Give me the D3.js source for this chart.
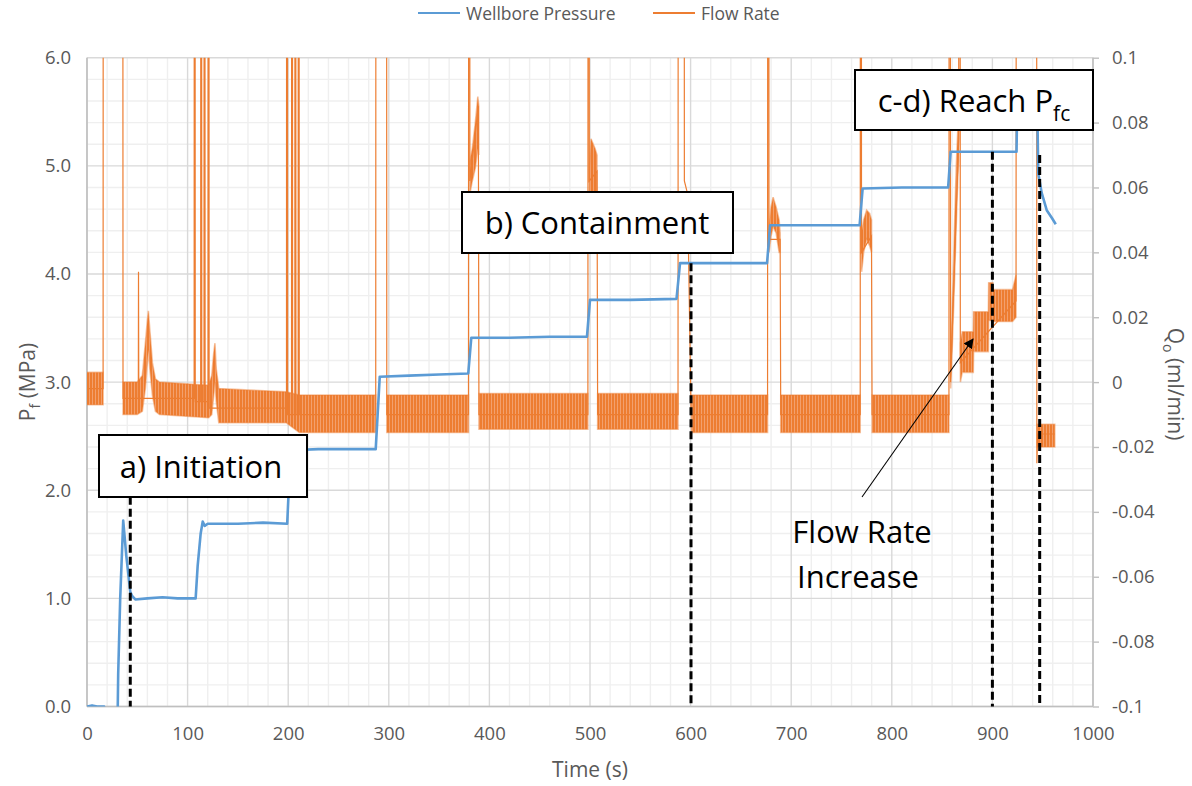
<!DOCTYPE html>
<html>
<head>
<meta charset="utf-8">
<script src="https://cdn.jsdelivr.net/npm/d3@7"></script>
<style>
  html, body { margin: 0; padding: 0; background: #fff; }
  svg { display: block; }
  text { font-family: "Open Sans", "Noto Sans", sans-serif; }
</style>
</head>
<body>
<svg id="chart" width="1192" height="786"></svg>
<script>
// ---- Wellbore pressure, [time s, MPa] ----
const pressure = [
  [0, 0.0], [5, 0.01], [10, 0.0], [17, 0.0], [18, -0.4], [30, -0.4], [31, 0.3], [33, 1.0],
  [36, 1.72], [39, 1.4], [43, 1.06], [45, 1.02], [48, 0.99], [60, 1.0], [75, 1.01], [90, 1.0],
  [108, 1.0], [110, 1.3], [113, 1.6], [115, 1.71], [117, 1.67], [120, 1.69], [150, 1.69],
  [175, 1.70], [199, 1.69], [201, 2.1], [203, 2.37], [230, 2.38], [260, 2.38], [287, 2.38],
  [291, 3.05], [320, 3.06], [350, 3.07], [379, 3.08], [382, 3.41], [420, 3.41], [460, 3.42],
  [497, 3.42], [500, 3.76], [540, 3.76], [586, 3.77], [589.5, 4.10], [630, 4.10], [676, 4.10],
  [679, 4.45], [720, 4.45], [768, 4.45], [771, 4.79], [810, 4.80], [856, 4.80], [858.5, 5.13],
  [890, 5.13], [924, 5.13], [925, 5.8], [943, 5.8], [944.5, 5.6], [945.6, 4.93], [949, 4.75],
  [954, 4.59], [959, 4.52], [963, 4.46]
];

// ---- Flow rate trace, [time s, ml/min]; values above 0.1 run off the top ----
const flowTrace = [
  [0, -0.002], [16, -0.002], [16.2, 0.3], [35.5, 0.3], [35.8, -0.005],
  [51, -0.005], [51.2, 0.034], [51.5, -0.005],
  [106.5, -0.005], [106.7, 0.3], [107.3, 0.3], [107.6, -0.006],
  [113, -0.006], [113.2, 0.3], [113.8, 0.3], [114.1, -0.006],
  [116.3, -0.006], [116.5, 0.3], [117.1, 0.3], [117.4, -0.006],
  [120.3, -0.006], [120.5, 0.3], [121.1, 0.3], [121.4, -0.008],
  [198.3, -0.008], [198.5, 0.3], [199.1, 0.3], [199.4, -0.01],
  [203.3, -0.01], [203.5, 0.3], [204.1, 0.3], [204.4, -0.01],
  [206.6, -0.01], [206.8, 0.3], [207.4, 0.3], [207.7, -0.01],
  [209.9, -0.01], [210.1, 0.3], [210.7, 0.3], [211, -0.01],
  [287, -0.01], [287.3, 0.3], [297.7, 0.3], [298, -0.01],
  [379.2, -0.01], [379.5, 0.3], [380.3, 0.3], [380.6, 0.062], [389, 0.085], [389.6, -0.01],
  [497.9, -0.01], [498.2, 0.3], [499, 0.3], [499.3, 0.062], [507, 0.065], [507.6, -0.01],
  [587.5, -0.01], [587.8, 0.3], [593.5, 0.3], [593.8, 0.062], [597, 0.058], [600.5, -0.01],
  [676.5, -0.01], [676.8, 0.3], [677.6, 0.3], [677.9, 0.044], [689, 0.044], [689.6, -0.01],
  [768.6, -0.01], [768.9, 0.3], [769.6, 0.3], [769.9, 0.04], [779.8, 0.045], [780.4, -0.01],
  [856.8, -0.01], [857.1, 0.3], [858, 0.3], [858.4, 0.0], [866.5, 0.075], [866.8, 0.3],
  [867.8, 0.3], [868.1, 0.006], [923.5, 0.025], [923.9, 0.3], [943.8, 0.3], [944.2, -0.025],
  [945, -0.016], [962, -0.016]
];

// ---- Flow rate noise envelope, one list per segment: [time s, low, high] ml/min ----
const flowBands = [
  [[0, -0.007, 0.003], [16, -0.007, 0.003]],
  [[35.8, -0.010, 0.0], [50, -0.010, 0.0], [55, -0.009, 0.002], [58, -0.002, 0.012],
   [60, 0.006, 0.019], [61, 0.010, 0.022], [62.5, 0.004, 0.016], [65, -0.004, 0.006],
   [68, -0.009, 0.001], [72, -0.010, 0.0], [121, -0.011, -0.001], [124, -0.010, 0.002],
   [126, -0.004, 0.009], [127.2, 0.0, 0.012], [128.5, -0.006, 0.004], [131, -0.0125, -0.002],
   [198, -0.0125, -0.003], [211, -0.0155, -0.004], [287, -0.0155, -0.004]],
  [[298, -0.0155, -0.004], [379.2, -0.0155, -0.004]],
  [[380.6, 0.058, 0.068], [383, 0.062, 0.072], [386, 0.066, 0.080], [388.5, 0.072, 0.088], [389.5, 0.070, 0.085]],
  [[389.6, -0.0145, -0.0035], [497.9, -0.0145, -0.0035]],
  [[499.3, 0.058, 0.066], [501, 0.058, 0.075], [505, 0.058, 0.072], [507, 0.058, 0.070]],
  [[507.6, -0.0145, -0.0035], [587.5, -0.0145, -0.0035]],
  [[601, -0.0155, -0.004], [676.5, -0.0155, -0.004]],
  [[678, 0.040, 0.048], [680, 0.045, 0.054], [682, 0.048, 0.057], [685, 0.046, 0.054], [688, 0.040, 0.050], [689, 0.040, 0.046]],
  [[689.6, -0.0155, -0.004], [768.6, -0.0155, -0.004]],
  [[770, 0.034, 0.046], [772, 0.040, 0.050], [775, 0.044, 0.053], [778, 0.042, 0.052], [779.8, 0.040, 0.050]],
  [[780.4, -0.0155, -0.004], [856.8, -0.0155, -0.004]],
  [[858.5, -0.002, 0.006], [860, 0.010, 0.022], [862, 0.028, 0.044], [864, 0.048, 0.066], [865.5, 0.062, 0.077], [866.5, 0.068, 0.080]],
  [[868.2, 0.0, 0.012], [870, 0.003, 0.0155], [881, 0.003, 0.0155], [881.3, 0.0094, 0.0217],
   [896, 0.0094, 0.0217], [896.3, 0.019, 0.0306], [900.5, 0.019, 0.0306], [900.8, 0.0187, 0.0285],
   [920, 0.0187, 0.0285], [923.5, 0.020, 0.033]],
  [[944.5, -0.020, -0.013], [962, -0.020, -0.013]]
];

// ---- Stage markers: [time s, pressure at top of marker MPa] ----
const stageMarkers = [[43, 1.94], [600.4, 4.10], [900, 5.13], [947, 5.10]];

// ---- Axis ticks ----
const timeTicks = [0, 100, 200, 300, 400, 500, 600, 700, 800, 900, 1000];
const pressureTicks = [0, 1, 2, 3, 4, 5, 6];
const flowTicks = [0.1, 0.08, 0.06, 0.04, 0.02, 0, -0.02, -0.04, -0.06, -0.08, -0.1];
const flowTickLabels = ["0.1", "0.08", "0.06", "0.04", "0.02", "0", "-0.02", "-0.04", "-0.06", "-0.08", "-0.1"];

const BLUE = "#5B9BD5", ORANGE = "#ED7D31", GREY = "#595959";
const L = 87, R = 1093, T = 57.7, B = 706.5;

const svg = d3.select("#chart");
const x = d3.scaleLinear().domain([0, 1000]).range([L, R]);
const yP = d3.scaleLinear().domain([0, 6]).range([B, T]);
const yQ = d3.scaleLinear().domain([-0.1, 0.1]).range([B, T]);

const defs = svg.append("defs");
defs.append("clipPath").attr("id", "plot")
  .append("rect").attr("x", L).attr("y", T).attr("width", R - L).attr("height", B - T);
// dense vertical hatching for the noisy flow envelope
const hatch = defs.append("pattern").attr("id", "hatch").attr("patternUnits", "userSpaceOnUse")
  .attr("width", 3).attr("height", 8);
hatch.append("rect").attr("width", 3).attr("height", 8).attr("fill", "#f3a06d");
hatch.append("rect").attr("width", 2).attr("height", 8).attr("fill", ORANGE);

// grid
const grid = svg.append("g");
grid.selectAll(".vmin").data(d3.range(0, 1001, 20).filter(v => v % 100 !== 0)).enter().append("line")
  .attr("x1", d => x(d)).attr("x2", d => x(d)).attr("y1", T).attr("y2", B)
  .attr("stroke", "#efefef").attr("stroke-width", 1.4);
grid.selectAll(".hmin").data(d3.range(0, 6.01, 0.2).filter(v => Math.abs(v - Math.round(v)) > 0.01)).enter().append("line")
  .attr("x1", L).attr("x2", R).attr("y1", d => yP(d)).attr("y2", d => yP(d))
  .attr("stroke", "#efefef").attr("stroke-width", 1.4);
grid.selectAll(".vmaj").data(timeTicks).enter().append("line")
  .attr("x1", d => x(d)).attr("x2", d => x(d)).attr("y1", T).attr("y2", B)
  .attr("stroke", "#d9d9d9").attr("stroke-width", 1.4);
grid.selectAll(".hmaj").data(pressureTicks).enter().append("line")
  .attr("x1", L).attr("x2", R).attr("y1", d => yP(d)).attr("y2", d => yP(d))
  .attr("stroke", "#d9d9d9").attr("stroke-width", 1.4);

// axes
const axisLeft = d3.axisLeft(yP).tickValues(pressureTicks).tickFormat(d3.format(".1f")).tickSize(0).tickPadding(16);
const gl = svg.append("g").attr("transform", `translate(${L},0)`).call(axisLeft);
const axisBottom = d3.axisBottom(x).tickValues(timeTicks).tickFormat(d3.format("d")).tickSize(0).tickPadding(20);
const gb = svg.append("g").attr("transform", `translate(0,${B})`).call(axisBottom);
const axisRight = d3.axisRight(yQ).tickValues(flowTicks).tickFormat((d, i) => flowTickLabels[i]).tickSize(6).tickPadding(13);
const gr = svg.append("g").attr("transform", `translate(${R},0)`).call(axisRight);
[gl, gb, gr].forEach(g => {
  g.select(".domain").attr("stroke", "#bfbfbf").attr("stroke-width", 1.6);
  g.selectAll(".tick line").attr("stroke", "#bfbfbf").attr("stroke-width", 1.4);
  g.selectAll(".tick text").attr("fill", GREY).style("font-size", "18.5px")
    .style("font-family", "'Open Sans', sans-serif");
});
gl.select(".domain").attr("d", `M0,${T}V${B}`);
gb.select(".domain").attr("d", `M${L},0H${R}`);
gr.select(".domain").attr("d", `M0,${T}V${B}`);

// series
const plot = svg.append("g").attr("clip-path", "url(#plot)");
const band = d3.area().x(d => x(d[0])).y0(d => yQ(d[1])).y1(d => yQ(d[2]));
plot.selectAll(".band").data(flowBands).enter().append("path")
  .attr("d", band).attr("fill", "url(#hatch)")
  .attr("stroke", ORANGE).attr("stroke-opacity", 0.45).attr("stroke-width", 1.6);
plot.append("path").datum(flowTrace)
  .attr("d", d3.line().x(d => x(d[0])).y(d => yQ(d[1])))
  .attr("fill", "none").attr("stroke", ORANGE).attr("stroke-width", 1.2);
plot.append("path").datum(pressure)
  .attr("d", d3.line().x(d => x(d[0])).y(d => yP(d[1])))
  .attr("fill", "none").attr("stroke", BLUE).attr("stroke-width", 2.6).attr("stroke-linejoin", "round");

// stage markers
svg.selectAll(".stage").data(stageMarkers).enter().append("line")
  .attr("x1", d => x(d[0])).attr("x2", d => x(d[0]))
  .attr("y1", d => yP(d[1])).attr("y2", B)
  .attr("stroke", "#000").attr("stroke-width", 3).attr("stroke-dasharray", "8,4");

// annotation boxes
function box(x0, y0, w, h) {
  return svg.append("rect").attr("x", x0).attr("y", y0).attr("width", w).attr("height", h)
    .attr("fill", "#fff").attr("stroke", "#000").attr("stroke-width", 2);
}
const ANN = "31px";
box(99, 435, 208, 62);
svg.append("text").attr("x", 201).attr("y", 478).attr("text-anchor", "middle")
  .style("font-size", ANN).attr("fill", "#000").text("a) Initiation");
box(462, 192, 271, 61);
svg.append("text").attr("x", 597).attr("y", 234).attr("text-anchor", "middle")
  .style("font-size", ANN).attr("fill", "#000").text("b) Containment");
box(855, 70, 238, 60);
const cd = svg.append("text").attr("x", 974).attr("y", 112).attr("text-anchor", "middle")
  .style("font-size", ANN).attr("fill", "#000");
cd.append("tspan").text("c-d) Reach P");
cd.append("tspan").attr("dy", 9).style("font-size", "21px").text("fc");

// flow-rate callout
defs.append("marker").attr("id", "head").attr("viewBox", "0 0 10 10")
  .attr("refX", 9).attr("refY", 5).attr("markerWidth", 10).attr("markerHeight", 10)
  .attr("markerUnits", "userSpaceOnUse").attr("orient", "auto")
  .append("path").attr("d", "M0,0L10,5L0,10Z").attr("fill", "#000");
svg.append("line").attr("x1", 862).attr("y1", 497).attr("x2", 973).attr("y2", 339)
  .attr("stroke", "#000").attr("stroke-width", 1.1).attr("marker-end", "url(#head)");
svg.append("text").attr("x", 862).attr("y", 543).attr("text-anchor", "middle")
  .style("font-size", ANN).attr("fill", "#000").text("Flow Rate");
svg.append("text").attr("x", 858).attr("y", 588).attr("text-anchor", "middle")
  .style("font-size", ANN).attr("fill", "#000").text("Increase");

// axis titles
svg.append("text").attr("x", 590).attr("y", 777).attr("text-anchor", "middle")
  .style("font-size", "21px").attr("fill", GREY).text("Time (s)");
const lt = svg.append("text").attr("transform", "translate(35,382) rotate(-90)").attr("text-anchor", "middle")
  .style("font-size", "21px").attr("fill", GREY);
lt.append("tspan").text("P");
lt.append("tspan").attr("dy", 5).style("font-size", "14px").text("f");
lt.append("tspan").attr("dy", -5).text(" (MPa)");
const rt = svg.append("text").attr("transform", "translate(1168,384) rotate(90)").attr("text-anchor", "middle")
  .style("font-size", "21px").attr("fill", GREY);
rt.append("tspan").text("Q");
rt.append("tspan").attr("dy", 5).style("font-size", "14px").text("o");
rt.append("tspan").attr("dy", -5).text(" (ml/min)");

// legend
const legend = [["Wellbore Pressure", BLUE, 418], ["Flow Rate", ORANGE, 653]];
legend.forEach(([name, col, lx]) => {
  svg.append("line").attr("x1", lx).attr("x2", lx + 42).attr("y1", 13).attr("y2", 13)
    .attr("stroke", col).attr("stroke-width", 2.2);
  svg.append("text").attr("x", lx + 48).attr("y", 19.5).style("font-size", "17.5px")
    .attr("fill", GREY).text(name);
});
</script>
</body>
</html>
